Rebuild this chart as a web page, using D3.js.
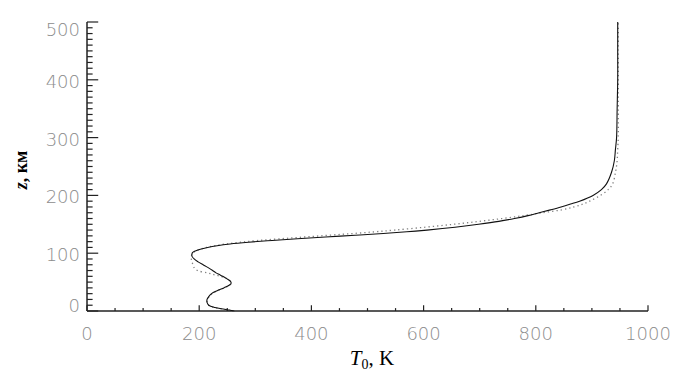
<!DOCTYPE html>
<html>
<head>
<meta charset="utf-8">
<script src="https://cdn.jsdelivr.net/npm/d3@7"></script>
<style>
  body { margin: 0; background: #fff; }
  svg { display: block; }
  .tick-label { font-family: "DejaVu Sans", sans-serif; font-weight: 200; font-size: 18px; fill: #8c8c8c; }
  .axis-title { font-family: "Liberation Serif", "Times New Roman", serif; fill: #000; }
</style>
</head>
<body>
<div id="chart"></div>
<script>
// altitude grid, km
const altitude = [0, 3, 6, 10, 15, 20, 25, 30, 35, 40, 45, 48, 52, 56, 60, 63, 66, 70, 75, 80, 85, 90, 95, 98,
  101, 104, 107, 110, 113, 116, 119, 122, 125, 128, 131, 134, 137, 140, 145, 150, 155, 160, 165, 170,
  175, 180, 185, 190, 200, 210, 220, 240, 260, 280, 300, 350, 400, 450, 500];

// solid curve, K
const tempSolid = [263, 245, 228, 217, 214, 214, 217, 222, 232, 244, 254, 257, 255, 249, 242, 236, 230, 224, 216, 207, 198, 191, 187, 187,
  188, 193, 202, 215, 232, 255, 288, 330, 375, 425, 478, 528, 570, 606, 656, 698, 734, 762, 786, 806,
  826, 845, 862, 878, 902, 917, 926, 935, 940, 942, 944, 945, 946, 946, 946];

// dotted curve, K
const tempDotted = [263, 245, 228, 217, 214, 215, 218, 223, 233, 245, 255, 257, 255, 249, 238, 226, 215, 197, 191, 189, 187, 186, 186, 187,
  190, 194, 202, 213, 228, 248, 274, 305, 345, 387, 430, 473, 513, 548, 603, 653, 698, 740, 778, 812,
  846, 868, 884, 896, 915, 929, 937, 942, 945, 946, 947, 947, 947, 947, 947];

const xMajor = [0, 200, 400, 600, 800, 1000];
const yMajor = [0, 100, 200, 300, 400, 500];

const width = 686, height = 378;
const mLeft = 87, mRight = 648, mTop = 22, mBottom = 311;

const svg = d3.select("#chart").append("svg")
  .attr("width", width).attr("height", height);

const x = d3.scaleLinear().domain([0, 1000]).range([mLeft, mRight]);
const y = d3.scaleLinear().domain([0, 500]).range([mBottom, mTop]);

const xTickLen = 0.02 * (mBottom - mTop);
const yTickLen = 0.02 * (mRight - mLeft);
const axisColor = "#222";

// axis lines
svg.append("line").attr("x1", mLeft).attr("x2", mRight).attr("y1", mBottom).attr("y2", mBottom)
  .attr("stroke", axisColor).attr("stroke-width", 1.5);
svg.append("line").attr("x1", mLeft).attr("x2", mLeft).attr("y1", mBottom).attr("y2", mTop)
  .attr("stroke", axisColor).attr("stroke-width", 1.5);

// x ticks
const xMinor = d3.range(0, 1001, 50);
svg.append("g").selectAll("line").data(xMinor).join("line")
  .attr("x1", d => x(d)).attr("x2", d => x(d))
  .attr("y1", mBottom)
  .attr("y2", d => mBottom - (d % 200 === 0 ? xTickLen : xTickLen / 2))
  .attr("stroke", axisColor).attr("stroke-width", 1.2);

// y ticks
const yMinor = d3.range(0, 501, 10);
svg.append("g").selectAll("line").data(yMinor).join("line")
  .attr("x1", mLeft)
  .attr("x2", d => mLeft + (d % 100 === 0 ? yTickLen : yTickLen / 2))
  .attr("y1", d => y(d)).attr("y2", d => y(d))
  .attr("stroke", axisColor).attr("stroke-width", 1.2);

// tick labels
svg.append("g").selectAll("text").data(xMajor).join("text")
  .attr("class", "tick-label")
  .attr("x", d => x(d)).attr("y", mBottom + 29)
  .attr("text-anchor", "middle")
  .text(d => d);

svg.append("g").selectAll("text").data(yMajor).join("text")
  .attr("class", "tick-label")
  .attr("x", mLeft - 7)
  .attr("y", d => {
    if (d === 0) return mBottom + 1;
    if (d === 500) return mTop + 14;
    return y(d) + 8;
  })
  .attr("text-anchor", "end")
  .text(d => d);

// curves
const line = (temps) => d3.line()
  .x((d, i) => x(temps[i]))
  .y(d => y(d))
  .curve(d3.curveCatmullRom.alpha(0.5))(altitude);

svg.append("path").attr("d", line(tempDotted))
  .attr("fill", "none").attr("stroke", "#808080").attr("stroke-width", 1.3)
  .attr("stroke-dasharray", "1.3,3");

svg.append("path").attr("d", line(tempSolid))
  .attr("fill", "none").attr("stroke", "#111").attr("stroke-width", 1.1);

// axis titles
const xt = svg.append("text").attr("class", "axis-title")
  .attr("x", 372).attr("y", 365).attr("text-anchor", "middle")
  .attr("font-size", 21);
xt.append("tspan").attr("font-style", "italic").text("T");
xt.append("tspan").attr("font-size", 14).attr("dy", 4).text("0");
xt.append("tspan").attr("dy", -4).text(", K");

const yt = svg.append("text").attr("class", "axis-title")
  .attr("transform", "translate(27,170) rotate(-90)")
  .attr("text-anchor", "middle")
  .attr("font-size", 18).attr("font-weight", "bold");
yt.append("tspan").attr("font-style", "italic").text("z");
yt.append("tspan").text(", км");
</script>
</body>
</html>
